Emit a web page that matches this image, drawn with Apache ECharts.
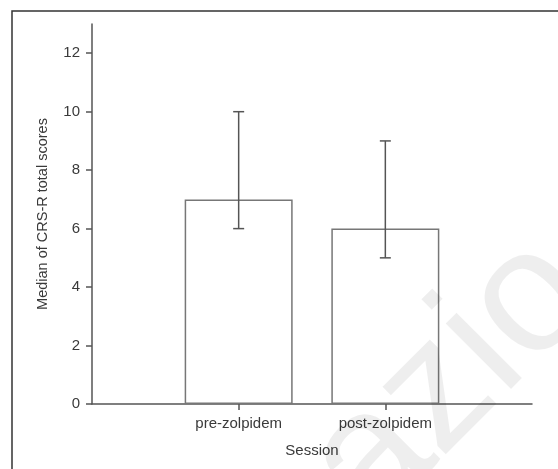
<!DOCTYPE html>
<html>
<head>
<meta charset="utf-8">
<script src="https://cdn.jsdelivr.net/npm/echarts@6/dist/echarts.min.js"></script>
<style>
html,body{margin:0;padding:0;background:#fff;}
#chart{width:558px;height:469px;}
</style>
</head>
<body>
<div id="chart"></div>
<script>
const categories = ['pre-zolpidem', 'post-zolpidem'];
const medians = [7, 6];
const lowerQ = [6, 5];
const upperQ = [10, 9];
const yTicks = [0, 2, 4, 6, 8, 10, 12];

const positions = categories.map((c, i) => i + 1);
const barData = positions.map((p, i) => [p, medians[i]]);
const errData = positions.map((p, i) => [p, lowerQ[i], upperQ[i]]);

const chart = echarts.init(document.getElementById('chart'), null, {renderer: 'canvas'});
const textColor = '#3a3a3a';
const axisColor = '#555';
const font = 'Liberation Sans, Arial, Helvetica, sans-serif';

chart.setOption({
  animation: false,
  backgroundColor: '#fff',
  grid: {left: 92, right: 26, top: 24, bottom: 65, containLabel: false},
  graphic: [
    {type: 'rect', z: 0, silent: true,
     shape: {x: 12, y: 11, width: 600, height: 600},
     style: {fill: 'none', stroke: '#333', lineWidth: 1.5}},
    {type: 'text', z: 100, silent: true, x: 276, y: 432, rotation: Math.PI / 4,
     style: {text: 'azio', font: '175px ' + font, fill: 'rgba(0,0,0,0.065)', verticalAlign: 'top'}}
  ],
  xAxis: {
    type: 'value', min: 0, max: 3, interval: 1,
    name: 'Session', nameLocation: 'middle', nameGap: 39,
    nameTextStyle: {color: textColor, fontSize: 15, fontFamily: font},
    axisLine: {show: true, lineStyle: {color: axisColor, width: 1.5}},
    axisTick: {show: true, length: 6, customValues: positions, lineStyle: {color: axisColor, width: 1.5}},
    axisLabel: {customValues: positions, margin: 12, color: textColor, fontSize: 15, fontFamily: font,
      formatter: v => categories[v - 1] || ''},
    splitLine: {show: false}
  },
  yAxis: {
    type: 'value', min: 0, max: 13, interval: 2,
    name: 'Median of CRS-R total scores', nameLocation: 'middle', nameGap: 42,
    nameTextStyle: {color: textColor, fontSize: 14.5, fontFamily: font},
    axisLine: {show: true, lineStyle: {color: axisColor, width: 1.5}},
    axisTick: {show: true, length: 6, customValues: yTicks, lineStyle: {color: axisColor, width: 1.5}},
    axisLabel: {customValues: yTicks, margin: 12, color: textColor, fontSize: 15, fontFamily: font},
    splitLine: {show: false}
  },
  series: [
    {
      type: 'bar', data: barData, barWidth: 108, z: 2,
      itemStyle: {color: '#fff', borderColor: '#777', borderWidth: 1.5}
    },
    {
      type: 'custom', z: 5, data: errData,
      encode: {x: 0, y: [1, 2]},
      renderItem: function (params, api) {
        const x = api.value(0);
        const lo = api.coord([x, api.value(1)]);
        const hi = api.coord([x, api.value(2)]);
        const cap = 5.5;
        const st = {stroke: '#555', lineWidth: 1.5};
        return {type: 'group', children: [
          {type: 'line', shape: {x1: lo[0], y1: lo[1], x2: hi[0], y2: hi[1]}, style: st},
          {type: 'line', shape: {x1: lo[0] - cap, y1: lo[1], x2: lo[0] + cap, y2: lo[1]}, style: st},
          {type: 'line', shape: {x1: hi[0] - cap, y1: hi[1], x2: hi[0] + cap, y2: hi[1]}, style: st}
        ]};
      }
    }
  ]
});
</script>
</body>
</html>
